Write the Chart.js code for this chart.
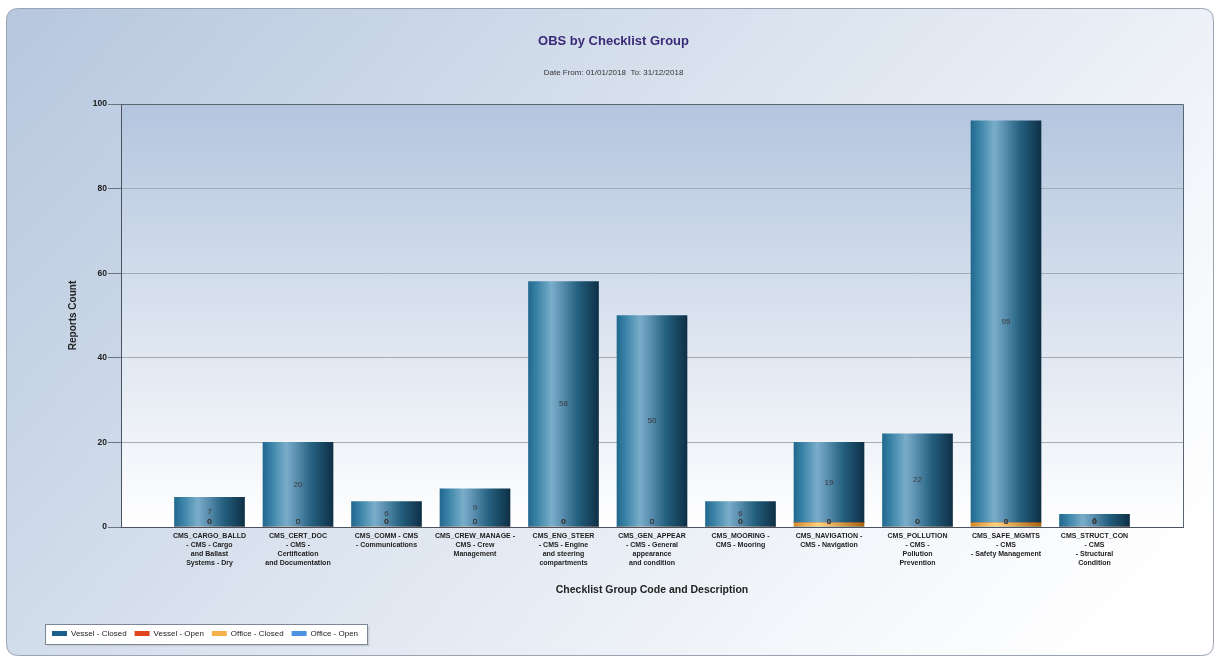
<!DOCTYPE html>
<html><head><meta charset="utf-8">
<script src="https://cdn.jsdelivr.net/npm/chart.js@4.4.1/dist/chart.umd.min.js"></script>
<style>html,body{margin:0;padding:0;background:#fff;overflow:hidden;}</style>
</head><body>
<canvas id="c" width="1220" height="661"></canvas>
<script>
const categories = [
  ["CMS_CARGO_BALLD", "- CMS - Cargo", "and Ballast", "Systems - Dry"],
  ["CMS_CERT_DOC", "- CMS -", "Certification", "and Documentation"],
  ["CMS_COMM - CMS", "- Communications"],
  ["CMS_CREW_MANAGE -", "CMS - Crew", "Management"],
  ["CMS_ENG_STEER", "- CMS - Engine", "and steering", "compartments"],
  ["CMS_GEN_APPEAR", "- CMS - General", "appearance", "and condition"],
  ["CMS_MOORING -", "CMS - Mooring"],
  ["CMS_NAVIGATION -", "CMS - Navigation"],
  ["CMS_POLLUTION", "- CMS -", "Pollution", "Prevention"],
  ["CMS_SAFE_MGMTS", "- CMS", "- Safety Management"],
  ["CMS_STRUCT_CON", "- CMS", "- Structural", "Condition"]
];
const vesselClosed = [7, 20, 6, 9, 58, 50, 6, 19, 22, 95, 3];
const vesselOpen   = [0, 0, 0, 0, 0, 0, 0, 0, 0, 0, 0];
const officeClosed = [0, 0, 0, 0, 0, 0, 0, 1, 0, 1, 0];
const officeOpen   = [0, 0, 0, 0, 0, 0, 0, 0, 0, 0, 0];
const yTicks = [0, 20, 40, 60, 80, 100];
const seriesNames = ["Vessel - Closed", "Vessel - Open", "Office - Closed", "Office - Open"];
const seriesColors = ["#1d5f8c", "#e2461c", "#f7b14a", "#4b92e3"];
const chartTitle = "OBS by Checklist Group";
const chartSubtitle = "Date From: 01/01/2018  To: 31/12/2018";
const yTitle = "Reports Count";
const xTitle = "Checklist Group Code and Description";

const FONT = "'Liberation Sans', Arial, sans-serif";
Chart.defaults.font.family = FONT;

const BAR_W = 70;
const blueStops = [[0,'#21688e'],[0.12,'#3a83a7'],[0.33,'#79adc9'],[0.43,'#6599b9'],[0.7,'#24607f'],[1,'#0e3047']];
const orangeStops = [[0,'#d58c28'],[0.35,'#ffd27c'],[1,'#a9650f']];
const redStops = [[0,'#b8300f'],[0.35,'#f0704a'],[1,'#8a2008']];
const lblueStops = [[0,'#2f74c4'],[0.35,'#8cbcf0'],[1,'#1d4f8f']];

function barFill(stops) {
  return function(ctx) {
    const chart = ctx.chart;
    if (!chart.chartArea || ctx.type !== 'data') return stops[1][1];
    const x = chart.scales.x.getPixelForValue(ctx.dataIndex);
    const g = chart.ctx.createLinearGradient(x - BAR_W / 2, 0, x + BAR_W / 2, 0);
    stops.forEach(s => g.addColorStop(s[0], s[1]));
    return g;
  };
}
const pad = arr => [null, ...arr, null];
const labels = ['', ...categories, ''];

const bgPlugin = {
  id: 'bg',
  beforeDraw(chart) {
    const c = chart.ctx, W = chart.width, H = chart.height;
    c.save();
    c.fillStyle = '#ffffff';
    c.fillRect(0, 0, W, H);
    const x0 = 6.5, y0 = 8.5, x1 = 1213.5, y1 = 655.5, r = 12;
    c.beginPath();
    c.moveTo(x0 + r, y0); c.lineTo(x1 - r, y0); c.quadraticCurveTo(x1, y0, x1, y0 + r);
    c.lineTo(x1, y1 - r); c.quadraticCurveTo(x1, y1, x1 - r, y1);
    c.lineTo(x0 + r, y1); c.quadraticCurveTo(x0, y1, x0, y1 - r);
    c.lineTo(x0, y0 + r); c.quadraticCurveTo(x0, y0, x0 + r, y0);
    c.closePath();
    const g = c.createLinearGradient(x0, y0, x1 * 0.75, y1 * 1.3);
    g.addColorStop(0, '#b6c7de');
    g.addColorStop(0.45, '#d9e2ee');
    g.addColorStop(0.8, '#f3f6fa');
    g.addColorStop(1, '#ffffff');
    c.fillStyle = g; c.fill();
    c.strokeStyle = '#9aa4b2'; c.lineWidth = 1; c.stroke();
    const a = chart.chartArea;
    const pg = c.createLinearGradient(0, a.top, 0, a.bottom);
    pg.addColorStop(0, '#b3c5de');
    pg.addColorStop(0.55, '#dde5f0');
    pg.addColorStop(1, '#ffffff');
    c.fillStyle = pg;
    c.fillRect(a.left, a.top, a.right - a.left, a.bottom - a.top);
    const lg = chart.legend;
    if (lg && lg.legendHitBoxes && lg.legendHitBoxes.length) {
      const hb = lg.legendHitBoxes;
      let l = Infinity, rr = -Infinity, t = Infinity, b = -Infinity;
      hb.forEach(h => { l = Math.min(l, h.left); rr = Math.max(rr, h.left + h.width); t = Math.min(t, h.top); b = Math.max(b, h.top + h.height); });
      const bl = Math.round(l - 7) + 0.5, br = Math.round(rr + 9) + 0.5, bt = Math.round(t - 6) + 0.5, bb = Math.round(b + 6) + 0.5;
      c.fillStyle = '#c8ced6';
      c.fillRect(bl + 2, bt + 2, br - bl, bb - bt);
      c.fillStyle = '#ffffff';
      c.fillRect(bl, bt, br - bl, bb - bt);
      c.strokeStyle = '#7c8694';
      c.strokeRect(bl, bt, br - bl, bb - bt);
    }
    c.restore();
  },
  beforeDatasetsDraw(chart) {
    const c = chart.ctx, a = chart.chartArea;
    c.save();
    c.strokeStyle = '#5b6572'; c.lineWidth = 1;
    c.beginPath();
    c.moveTo(a.left, Math.round(a.top) + 0.5); c.lineTo(Math.round(a.right) + 0.5, Math.round(a.top) + 0.5);
    c.lineTo(Math.round(a.right) + 0.5, a.bottom);
    c.stroke();
    c.restore();
  },
  afterDatasetsDraw(chart) {
    const c = chart.ctx;
    const zeroY = chart.scales.y.getPixelForValue(0);
    c.save();
    c.font = "8px " + FONT;
    c.fillStyle = '#3a3a3a';
    c.textAlign = 'center';
    c.textBaseline = 'middle';
    chart.data.datasets.forEach((ds, di) => {
      const meta = chart.getDatasetMeta(di);
      meta.data.forEach((el, i) => {
        const v = ds.data[i];
        if (v === null || v === undefined) return;
        const y = v > 0 ? Math.min((el.y + el.base) / 2, zeroY - 5) : zeroY - 5;
        c.fillText(String(v), el.x, y);
      });
    });
    c.restore();
  }
};

const datasets = [
  { label: seriesNames[3], data: pad(officeOpen), backgroundColor: barFill(lblueStops), legendColor: seriesColors[3] },
  { label: seriesNames[2], data: pad(officeClosed), backgroundColor: barFill(orangeStops), legendColor: seriesColors[2] },
  { label: seriesNames[1], data: pad(vesselOpen), backgroundColor: barFill(redStops), legendColor: seriesColors[1] },
  { label: seriesNames[0], data: pad(vesselClosed), backgroundColor: barFill(blueStops), legendColor: seriesColors[0] }
].map(d => Object.assign(d, { barThickness: BAR_W, borderWidth: 0, stack: 's' }));

new Chart(document.getElementById('c'), {
  type: 'bar',
  data: { labels, datasets },
  options: {
    responsive: false,
    animation: false,
    devicePixelRatio: 1,
    layout: { padding: { left: 44, right: 37, top: 34, bottom: 13.5 } },
    plugins: {
      title: { display: true, text: chartTitle, color: '#3b2a78', font: { size: 13, weight: 'bold' }, padding: { top: 0, bottom: 18.2 } },
      subtitle: { display: true, text: chartSubtitle, color: '#333', font: { size: 8 }, padding: { top: 0, bottom: 26.6 } },
      legend: {
        position: 'bottom', align: 'start', reverse: true,
        labels: {
          boxWidth: 15, boxHeight: 5, padding: 8, color: '#222', font: { size: 8 },
          generateLabels(chart) {
            const items = Chart.defaults.plugins.legend.labels.generateLabels(chart);
            items.forEach(it => {
              const col = chart.data.datasets[it.datasetIndex].legendColor;
              it.fillStyle = col; it.strokeStyle = col; it.lineWidth = 0;
            });
            return items;
          }
        }
      },
      tooltip: { enabled: false }
    },
    scales: {
      x: {
        stacked: true,
        offset: false,
        grid: { display: false, drawTicks: false },
        border: { display: true, color: '#4a5460', width: 1 },
        ticks: { autoSkip: false, maxRotation: 0, minRotation: 0, padding: 5, color: '#222', font: { size: 7, weight: 'bold', lineHeight: '9px' } },
        title: { display: true, text: xTitle, color: '#222', font: { size: 10.5, weight: 'bold' }, padding: { top: 0, bottom: 25.2 } },
        afterFit(scale) { scale.height = 94.5; }
      },
      y: {
        stacked: true,
        min: 0, max: 100,
        afterBuildTicks(scale) { scale.ticks = yTicks.map(v => ({ value: v })); },
        grid: {
          color: ctx => (ctx.tick && ctx.tick.value === 100) ? '#5b6572' : '#a3abb5',
          tickLength: 13, tickColor: '#6a737e', lineWidth: 1
        },
        border: { display: true, color: '#4a5460', width: 1 },
        ticks: { padding: 1, color: '#222', font: { size: 8.5, weight: 'bold' } },
        title: { display: true, text: yTitle, color: '#222', font: { size: 10, weight: 'bold' }, padding: { top: 23, bottom: 0 } },
        afterFit(scale) { scale.width = 77; }
      }
    }
  },
  plugins: [bgPlugin]
});
</script>
</body></html>
